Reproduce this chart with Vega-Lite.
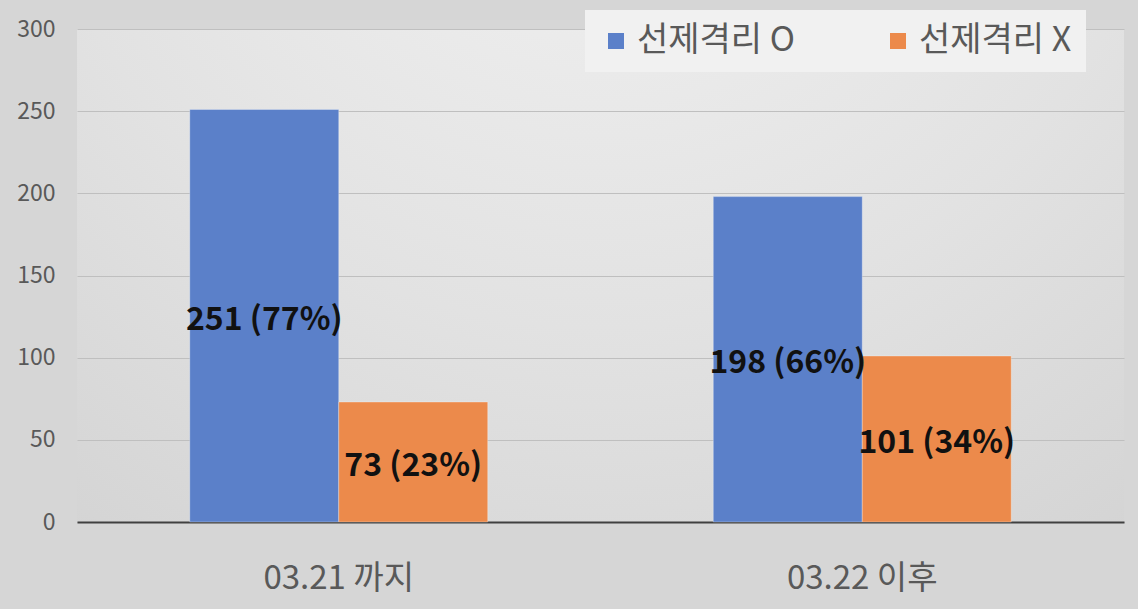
{
  "$schema": "https://vega.github.io/schema/vega-lite/v6.json",
  "autosize": {"type": "none"},
  "width": 1047,
  "height": 493,
  "padding": {"left": 77, "top": 29, "right": 14, "bottom": 87},
  "background": "#d6d6d6",
  "config": {
    "font": "Noto Sans CJK KR",
    "view": {
      "stroke": null,
      "fill": {
        "gradient": "radial",
        "x1": 0.5, "y1": 0.0, "r1": 0.0,
        "x2": 0.5, "y2": 0.0, "r2": 1.0,
        "stops": [
          {"offset": 0, "color": "#f4f4f4"},
          {"offset": 0.55, "color": "#e2e2e2"},
          {"offset": 1, "color": "#d0d0d0"}
        ]
      }
    },
    "axisY": {
      "labelOverlap": false,
      "labelColor": "#595959",
      "labelPadding": 22,
      "ticks": false,
      "domain": false,
      "gridColor": "#bfbfbf",
      "gridWidth": 1
    }
  },
  "data": {
    "values": [
      {"period": "03.21 까지", "group": "선제격리 O", "value": 251, "label": "251 (77%)"},
      {"period": "03.21 까지", "group": "선제격리 X", "value": 73, "label": "73 (23%)"},
      {"period": "03.22 이후", "group": "선제격리 O", "value": 198, "label": "198 (66%)"},
      {"period": "03.22 이후", "group": "선제격리 X", "value": 101, "label": "101 (34%)"}
    ]
  },
  "encoding": {
    "x": {
      "field": "period",
      "type": "nominal",
      "sort": null,
      "scale": {"paddingInner": 0, "paddingOuter": 0},
      "axis": {
        "title": null,
        "labelAngle": 0,
        "labelFontSize": 33,
        "labelColor": "#595959",
        "labelPadding": 40,
        "ticks": false,
        "domainColor": "#404040",
        "domainWidth": 2
      }
    },
    "xOffset": {
      "field": "group",
      "type": "nominal",
      "scale": {"paddingInner": 0, "paddingOuter": 0.757}
    }
  },
  "layer": [
    {
      "mark": {"type": "bar", "stroke": "#ffffff", "strokeWidth": 0.5, "strokeOpacity": 0.6},
      "encoding": {
        "y": {
          "field": "value",
          "type": "quantitative",
          "title": null,
          "scale": {"domain": [0, 300], "nice": false},
          "axis": {"values": [0, 50, 100, 150, 200, 250, 300], "labelFontSize": 23, "labelOverlap": false}
        },
        "color": {
          "field": "group",
          "type": "nominal",
          "scale": {"domain": ["선제격리 O", "선제격리 X"], "range": ["#5b80c9", "#ec8a4b"]},
          "legend": {
            "title": null,
            "orient": "none",
            "direction": "horizontal",
            "legendX": 508,
            "legendY": -19,
            "padding": 14,
            "fillColor": "#f1f1f1",
            "symbolType": "square",
            "symbolSize": 256,
            "symbolStrokeWidth": 0,
            "labelFontSize": 34,
            "labelColor": "#595959",
            "labelOffset": 4,
            "columnPadding": 86
          }
        }
      }
    },
    {
      "transform": [{"calculate": "datum.value / 2", "as": "mid"}],
      "mark": {"type": "text", "fontSize": 32, "fontWeight": "bold", "color": "#111111", "baseline": "middle", "align": "center", "dy": 4},
      "encoding": {
        "y": {
          "field": "mid",
          "type": "quantitative",
          "title": null,
          "axis": {"values": [0, 50, 100, 150, 200, 250, 300], "labelFontSize": 23, "labelOverlap": false}
        },
        "text": {"field": "label"}
      }
    }
  ]
}
